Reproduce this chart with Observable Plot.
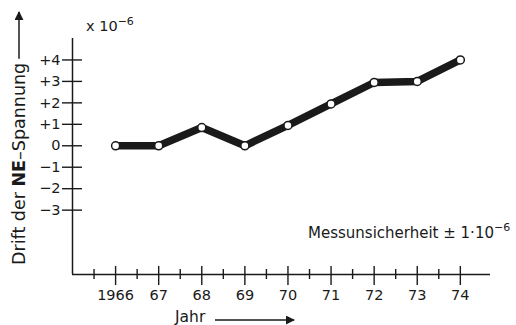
<!DOCTYPE html>
<html><head><meta charset="utf-8">
<script src="https://cdn.jsdelivr.net/npm/d3@7"></script>
<script src="https://cdn.jsdelivr.net/npm/@observablehq/plot@0.6"></script>
<style>body{margin:0;background:#fff} svg{font-family:"DejaVu Sans",sans-serif}</style>
</head><body><div id="chart"></div>
<script>
const years = [1966, 1967, 1968, 1969, 1970, 1971, 1972, 1973, 1974];
const drift = [0, 0, 0.85, 0, 0.95, 1.95, 2.95, 3, 4];
const xTickLabels = ["1966", "67", "68", "69", "70", "71", "72", "73", "74"];
const minorTicks = [1965.5, 1966.5, 1967.5, 1968.5, 1969.5, 1970.5, 1971.5, 1972.5, 1973.5];
const yTicks = [-3, -2, -1, 0, 1, 2, 3, 4];
const yTickLabels = ["−3", "−2", "−1", "0", "+1", "+2", "+3", "+4"];

const data = years.map((year, i) => ({year, drift: drift[i]}));
const ink = "#1a1a1a";

const chart = Plot.plot({
  width: 516,
  height: 325,
  marginLeft: 72,
  marginRight: 26,
  marginTop: 38,
  marginBottom: 51,
  style: {color: ink, background: "#fff", fontFamily: "'DejaVu Sans', sans-serif"},
  x: {domain: [1965, 1974.7]},
  y: {domain: [-6, 5]},
  marks: [
    Plot.ruleX([1965], {stroke: ink, strokeWidth: 1.5}),
    Plot.ruleY([-6], {stroke: ink, strokeWidth: 1.5}),
    Plot.axisY({ticks: yTicks, tickSize: 20, dx: 10, tickPadding: 2, strokeWidth: 1.4,
      tickFormat: d => yTickLabels[yTicks.indexOf(d)], fontSize: 14.5, label: null}),
    Plot.axisX({ticks: years, tickSize: 19, dy: -8, tickPadding: 4, strokeWidth: 1.4,
      tickFormat: d => xTickLabels[years.indexOf(d)], fontSize: 14.5, label: null}),
    Plot.axisX({ticks: minorTicks, tickSize: 10, dy: -5, strokeWidth: 1.4,
      tickFormat: () => "", label: null}),
    Plot.line(data, {x: "year", y: "drift", stroke: ink, strokeWidth: 7.5, strokeLinejoin: "round"}),
    Plot.dot(data, {x: "year", y: "drift", r: 4, fill: "#fff", stroke: ink, strokeWidth: 1.5})
  ]
});
document.getElementById("chart").append(chart);

// annotations
const svg = d3.select(chart);
const sx = chart.scale("x"), sy = chart.scale("y");
const leftPx = sx.apply(1965), bottomPx = sy.apply(-6), topPx = sy.apply(5);

svg.append("defs").html(`<marker id="ah" viewBox="0 0 10 10" refX="9" refY="5" markerWidth="9" markerHeight="9" markerUnits="userSpaceOnUse" orient="auto"><path d="M0,0L10,5L0,10z" fill="${ink}"/></marker>`);

function txt(x, y, size) {
  return svg.append("text").attr("x", x).attr("y", y)
    .style("font-size", size + "px").style("text-anchor", "start").attr("fill", ink);
}

// x 10^-6
const u = txt(leftPx + 14, topPx - 7, 14.5);
u.append("tspan").text("x 10");
u.append("tspan").attr("dy", -6).style("font-size", "11px").text("−6");

// y label rotated
const yl = txt(0, 0, 17.5).attr("transform", `translate(25,${bottomPx - 9}) rotate(-90)`);
yl.append("tspan").text("Drift der ");
yl.append("tspan").style("font-weight", "bold").text("NE");
yl.append("tspan").text("–Spannung");
const ylen = yl.node().getComputedTextLength();
svg.append("line").attr("x1", 19).attr("x2", 19)
  .attr("y1", bottomPx - 9 - ylen - 4).attr("y2", 12)
  .attr("stroke", ink).attr("stroke-width", 1.5).attr("marker-end", "url(#ah)");

// x label
const xl = txt(175, 322, 15.5).text("Jahr");
svg.append("line").attr("y1", 320).attr("y2", 320).attr("x1", 215).attr("x2", 294)
  .attr("stroke", ink).attr("stroke-width", 1.5).attr("marker-end", "url(#ah)");

// Messunsicherheit
const m = txt(308, 238, 15);
m.append("tspan").text("Messunsicherheit ± 1·10");
m.append("tspan").attr("dy", -7).style("font-size", "11px").text("−6");
</script>
</body></html>
